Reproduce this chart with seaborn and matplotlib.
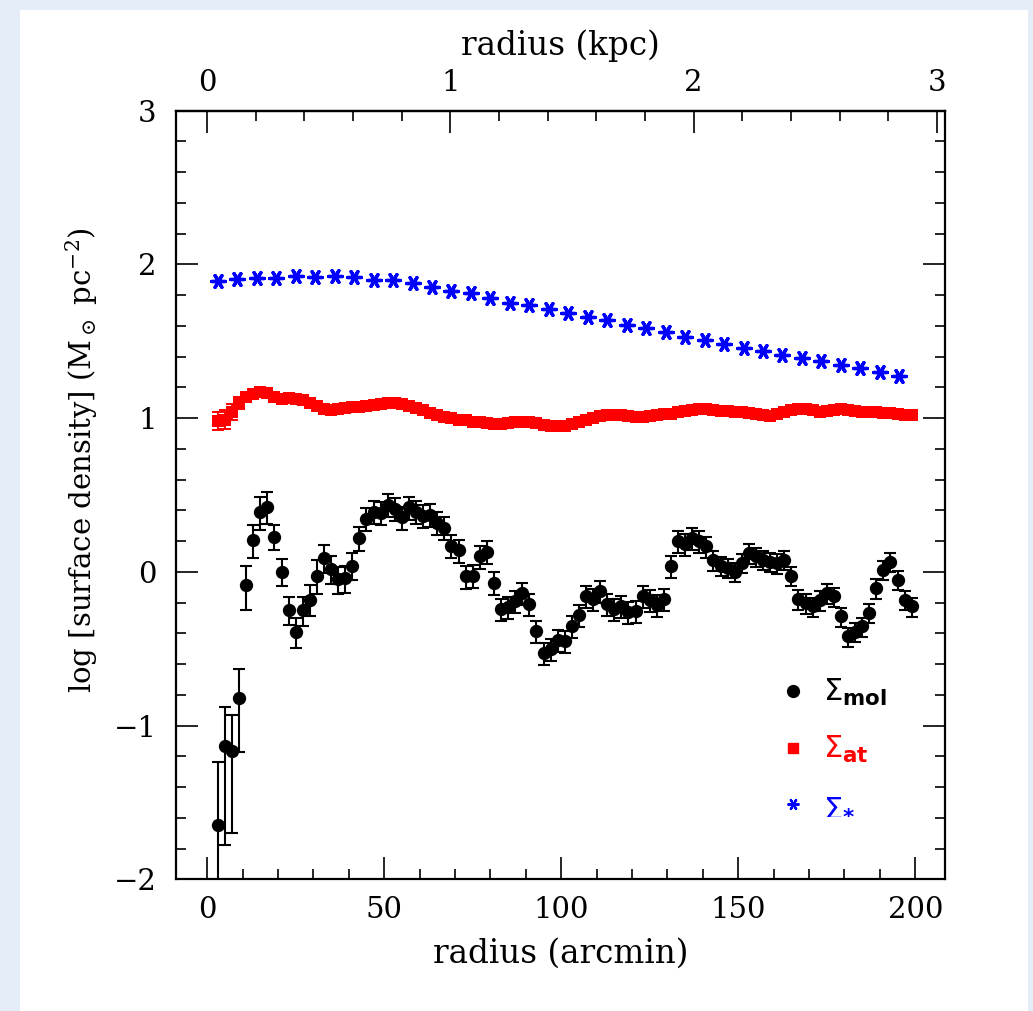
import matplotlib
matplotlib.use("Agg")
import matplotlib.pyplot as plt
from matplotlib.ticker import MultipleLocator
from matplotlib.lines import Line2D
from matplotlib.patches import Rectangle
from matplotlib.font_manager import FontProperties
import seaborn as sns

# ---------------- data ----------------
r_mol = [3, 5, 7, 9, 11, 13, 15, 17, 19, 21,
         23, 25, 27, 29, 31, 33, 35, 37, 39, 41,
         43, 45, 47, 49, 51, 53, 55, 57, 59, 61,
         63, 65, 67, 69, 71, 73, 75, 77, 79, 81,
         83, 85, 87, 89, 91, 93, 95, 97, 99, 101,
         103, 105, 107, 109, 111, 113, 115, 117, 119, 121,
         123, 125, 127, 129, 131, 133, 135, 137, 139, 141,
         143, 145, 147, 149, 151, 153, 155, 157, 159, 161,
         163, 165, 167, 169, 171, 173, 175, 177, 179, 181,
         183, 185, 187, 189, 191, 193, 195, 197, 199]

logS_mol = [-1.65, -1.13, -1.165, -0.82, -0.085, 0.21, 0.39, 0.425, 0.23, 0.00,
            -0.25, -0.39, -0.25, -0.18, -0.025, 0.09, 0.02, -0.047, -0.043, 0.04,
            0.22, 0.345, 0.39, 0.385, 0.435, 0.41, 0.355, 0.42, 0.39, 0.365,
            0.37, 0.32, 0.285, 0.17, 0.14, -0.03, -0.025, 0.10, 0.13, -0.07,
            -0.24, -0.23, -0.19, -0.14, -0.21, -0.385, -0.525, -0.50, -0.445, -0.45,
            -0.35, -0.28, -0.155, -0.175, -0.125, -0.21, -0.24, -0.225, -0.26, -0.255,
            -0.155, -0.185, -0.215, -0.175, 0.04, 0.20, 0.18, 0.22, 0.20, 0.165,
            0.075, 0.04, 0.025, 0.00, 0.06, 0.12, 0.10, 0.077, 0.066, 0.055,
            0.08, -0.025, -0.177, -0.205, -0.225, -0.185, -0.14, -0.16, -0.29, -0.42,
            -0.39, -0.355, -0.265, -0.107, 0.014, 0.066, -0.053, -0.18, -0.225]

mol_err_hi = [0.41, 0.25, 0.235, 0.19, 0.12, 0.095, 0.095, 0.095, 0.075, 0.085,
              0.087, 0.09, 0.085, 0.095, 0.10, 0.085, 0.085, 0.08, 0.08, 0.08,
              0.075, 0.07, 0.07, 0.07, 0.07, 0.07, 0.07, 0.07, 0.07, 0.07,
              0.07, 0.07, 0.07, 0.07, 0.07, 0.07, 0.07, 0.07, 0.07, 0.07,
              0.065, 0.065, 0.065, 0.065, 0.065, 0.065, 0.065, 0.065, 0.065, 0.065,
              0.065, 0.065, 0.065, 0.065, 0.065, 0.065, 0.065, 0.065, 0.065, 0.065,
              0.065, 0.065, 0.065, 0.065, 0.065, 0.065, 0.065, 0.065, 0.065, 0.065,
              0.058, 0.058, 0.058, 0.058, 0.058, 0.058, 0.058, 0.058, 0.058, 0.058,
              0.058, 0.058, 0.058, 0.058, 0.058, 0.058, 0.058, 0.058, 0.058, 0.058,
              0.058, 0.058, 0.058, 0.058, 0.058, 0.058, 0.058, 0.058, 0.058]

mol_err_lo = [0.60, 0.65, 0.535, 0.35, 0.16, 0.12, 0.115, 0.115, 0.085, 0.095,
              0.098, 0.105, 0.10, 0.11, 0.12, 0.10, 0.10, 0.095, 0.095, 0.09,
              0.085, 0.08, 0.08, 0.08, 0.08, 0.08, 0.08, 0.08, 0.08, 0.08,
              0.08, 0.08, 0.08, 0.08, 0.08, 0.08, 0.08, 0.08, 0.08, 0.08,
              0.078, 0.078, 0.078, 0.078, 0.078, 0.078, 0.078, 0.078, 0.078, 0.078,
              0.078, 0.078, 0.078, 0.078, 0.078, 0.078, 0.078, 0.078, 0.078, 0.078,
              0.078, 0.078, 0.078, 0.078, 0.078, 0.078, 0.078, 0.078, 0.078, 0.078,
              0.068, 0.068, 0.068, 0.068, 0.068, 0.068, 0.068, 0.068, 0.068, 0.068,
              0.068, 0.068, 0.068, 0.068, 0.068, 0.068, 0.068, 0.068, 0.068, 0.068,
              0.068, 0.068, 0.068, 0.068, 0.068, 0.068, 0.068, 0.068, 0.068]

r_at = [3, 5, 7, 9, 11, 13, 15, 17, 19, 21,
        23, 25, 27, 29, 31, 33, 35, 37, 39, 41,
        43, 45, 47, 49, 51, 53, 55, 57, 59, 61,
        63, 65, 67, 69, 71, 73, 75, 77, 79, 81,
        83, 85, 87, 89, 91, 93, 95, 97, 99, 101,
        103, 105, 107, 109, 111, 113, 115, 117, 119, 121,
        123, 125, 127, 129, 131, 133, 135, 137, 139, 141,
        143, 145, 147, 149, 151, 153, 155, 157, 159, 161,
        163, 165, 167, 169, 171, 173, 175, 177, 179, 181,
        183, 185, 187, 189, 191, 193, 195, 197, 199]

logS_at = [0.98, 0.99, 1.04, 1.10, 1.14, 1.16, 1.17, 1.165, 1.14, 1.125,
           1.13, 1.125, 1.115, 1.10, 1.08, 1.06, 1.055, 1.06, 1.065, 1.07,
           1.075, 1.08, 1.085, 1.09, 1.10, 1.10, 1.095, 1.08, 1.065, 1.05,
           1.035, 1.02, 1.01, 1.00, 0.99, 0.985, 0.978, 0.973, 0.97, 0.965,
           0.962, 0.968, 0.973, 0.978, 0.975, 0.968, 0.958, 0.951, 0.947, 0.95,
           0.96, 0.975, 0.99, 1.003, 1.015, 1.022, 1.023, 1.02, 1.012, 1.006,
           1.008, 1.014, 1.018, 1.024, 1.03, 1.04, 1.046, 1.052, 1.058, 1.06,
           1.055, 1.049, 1.045, 1.042, 1.04, 1.035, 1.03, 1.022, 1.016, 1.025,
           1.04, 1.05, 1.058, 1.06, 1.05, 1.04, 1.045, 1.055, 1.06, 1.052,
           1.045, 1.042, 1.042, 1.04, 1.035, 1.032, 1.028, 1.022, 1.018]

at_err = [0.06, 0.06, 0.05, 0.04, 0.03, 0.025, 0.025, 0.025, 0.025, 0.025,
          0.025, 0.025, 0.025, 0.025, 0.025, 0.025, 0.025, 0.025, 0.025, 0.025,
          0.025, 0.025, 0.025, 0.025, 0.025, 0.025, 0.025, 0.025, 0.025, 0.025,
          0.025, 0.025, 0.025, 0.025, 0.025, 0.025, 0.025, 0.025, 0.025, 0.025,
          0.025, 0.025, 0.025, 0.025, 0.025, 0.025, 0.025, 0.025, 0.025, 0.025,
          0.025, 0.025, 0.025, 0.025, 0.025, 0.025, 0.025, 0.025, 0.025, 0.025,
          0.025, 0.025, 0.025, 0.025, 0.025, 0.025, 0.025, 0.025, 0.025, 0.025,
          0.025, 0.025, 0.025, 0.025, 0.025, 0.025, 0.025, 0.025, 0.025, 0.025,
          0.025, 0.025, 0.025, 0.025, 0.025, 0.025, 0.025, 0.025, 0.025, 0.025,
          0.025, 0.025, 0.025, 0.025, 0.025, 0.025, 0.025, 0.025, 0.025]

r_star = [3.0, 8.5, 14.0, 19.5, 25.0, 30.5, 36.0, 41.5, 47.0, 52.5,
          58.0, 63.5, 69.0, 74.5, 80.0, 85.5, 91.0, 96.5, 102.0, 107.5,
          113.0, 118.5, 124.0, 129.5, 135.0, 140.5, 146.0, 151.5, 157.0, 162.5,
          168.0, 173.5, 179.0, 184.5, 190.0, 195.5]

logS_star = [1.895, 1.906, 1.910, 1.910, 1.923, 1.915, 1.923, 1.917, 1.900, 1.900,
             1.878, 1.856, 1.830, 1.813, 1.782, 1.750, 1.737, 1.711, 1.683, 1.657,
             1.639, 1.607, 1.585, 1.563, 1.531, 1.511, 1.483, 1.457, 1.435, 1.411,
             1.392, 1.370, 1.348, 1.327, 1.299, 1.273]

legend_labels = [r"$\Sigma_{\mathbf{mol}}$", r"$\Sigma_{\mathbf{at}}$", r"$\Sigma_{\mathbf{*}}$"]
series_colors = ["black", "red", "blue"]

ARCMIN_PER_KPC = 68.7
kpc_ticks = [0, 1, 2, 3]

# ---------------- style ----------------
sns.set_style("ticks")
plt.rcParams["font.family"] = ["DejaVu Serif", "DejaVu Sans"]
plt.rcParams["mathtext.fontset"] = "dejavuserif"
for key in ["text.color", "axes.labelcolor", "xtick.color", "ytick.color", "axes.edgecolor"]:
    plt.rcParams[key] = "black"

W, H = 1033, 1011
fig = plt.figure(figsize=(W / 100, H / 100), dpi=100)
fig.patch.set_facecolor("#e4ecf7")
fig.add_artist(Rectangle((20 / W, 0), 1008 / W, 1001 / H, transform=fig.transFigure,
                         facecolor="white", edgecolor="none", zorder=-5))

ax = fig.add_axes([176 / W, 1 - 879.3 / H, (945 - 176) / W, (879.3 - 110.7) / H])
ax.set_facecolor("white")

# atomic (red)
ax.errorbar(r_at, logS_at, yerr=at_err, fmt="none", ecolor="red",
            elinewidth=1.4, capsize=4.5, capthick=1.4, zorder=2)
sns.scatterplot(x=r_at, y=logS_at, marker="s", s=68, color="red",
                edgecolor="red", linewidth=0, ax=ax, zorder=3, legend=False)

# stellar (blue)
sns.scatterplot(x=r_star, y=logS_star, marker=(6, 2, 90), s=95, color="blue",
                edgecolor="blue", linewidth=2.4, ax=ax, zorder=3, legend=False)

# molecular (black)
ax.errorbar(r_mol, logS_mol, yerr=[mol_err_lo, mol_err_hi], fmt="none", ecolor="black",
            elinewidth=1.5, capsize=4.3, capthick=1.5, zorder=4)
sns.scatterplot(x=r_mol, y=logS_mol, marker="o", s=92, color="black",
                edgecolor="black", linewidth=0, ax=ax, zorder=5, legend=False)

ax.set_xlim(-8.8, 208.4)
ax.set_ylim(-2, 3)

ax.xaxis.set_major_locator(MultipleLocator(50))
ax.xaxis.set_minor_locator(MultipleLocator(10))
ax.yaxis.set_major_locator(MultipleLocator(1))
ax.yaxis.set_minor_locator(MultipleLocator(0.2))

tick_fs = 21
ax.tick_params(which="both", direction="in", top=False, right=True, labelright=False,
               width=1.2, colors="black", labelsize=tick_fs)
ax.tick_params(which="major", length=15.5)
ax.tick_params(which="minor", length=7.5)
ax.tick_params(axis="x", pad=12)
ax.tick_params(axis="y", pad=14)
for sp in ax.spines.values():
    sp.set_linewidth(1.6)
    sp.set_color("black")
    sp.set_visible(True)

ax.yaxis.set_major_formatter(plt.FuncFormatter(lambda v, p: f"{int(round(v))}".replace("-", "\u2212")))

ax.set_xlabel("radius (arcmin)", fontsize=23.5, labelpad=10, color="black")
ax.set_ylabel(r"log [surface density] (M$_\odot$ pc$^{-2}$)", fontsize=21,
              color="black")
ax.yaxis.set_label_coords(-0.099, 1 - (460 - 110.7) / 768.6)

secax = ax.secondary_xaxis("top", functions=(lambda a: a / ARCMIN_PER_KPC,
                                             lambda k: k * ARCMIN_PER_KPC))
secax.set_xticks(kpc_ticks)
secax.xaxis.set_minor_locator(MultipleLocator(0.2))
secax.tick_params(which="both", direction="in", width=1.2, labelsize=tick_fs, pad=10,
                  colors="black")
secax.tick_params(which="major", length=15.5)
secax.tick_params(which="minor", length=7.5)
secax.spines["top"].set_linewidth(1.6)
secax.set_xlabel("radius (kpc)", fontsize=23.5, labelpad=10, color="black")

handles = [
    Line2D([], [], linestyle="none", marker="o", markersize=8.5, color="black"),
    Line2D([], [], linestyle="none", marker="s", markersize=7, color="red"),
    Line2D([], [], linestyle="none", marker=(6, 2, 90), markersize=8.5, color="blue",
           markeredgewidth=1.6),
]
leg_prop = FontProperties(family="DejaVu Sans", size=22, math_fontfamily="dejavusans")
ax.legend(handles, legend_labels, loc="upper left",
          bbox_to_anchor=((765 - 176) / 769, 1 - (662 - 110.7) / 768.6),
          frameon=False, prop=leg_prop, labelcolor=series_colors,
          handlelength=0.8, handletextpad=0.6, labelspacing=0.85, borderpad=0)

fig.savefig("out.png", dpi=100, facecolor=fig.get_facecolor())
